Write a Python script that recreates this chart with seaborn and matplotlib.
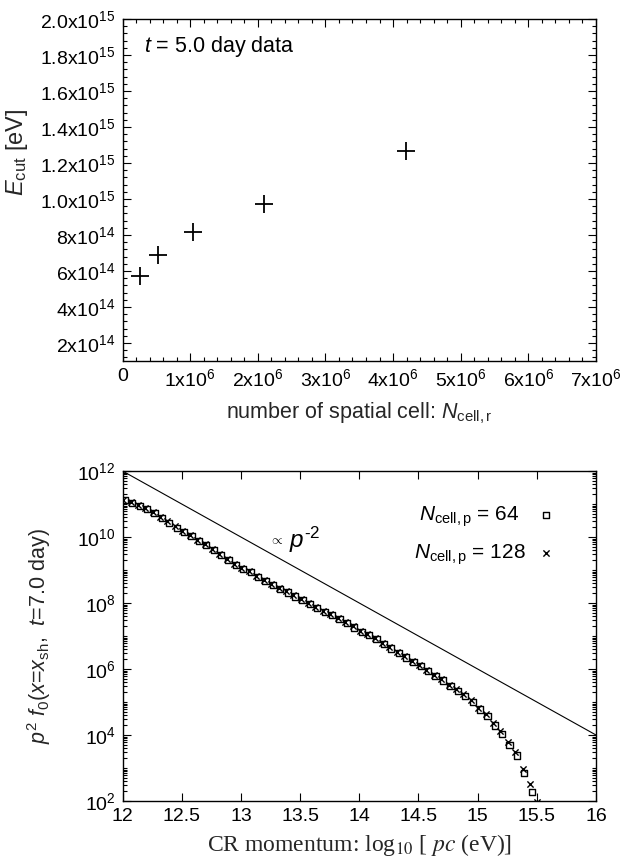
import numpy as np
import pandas as pd
import matplotlib
matplotlib.use('Agg')
import matplotlib.pyplot as plt
import matplotlib.ticker as mticker
import seaborn as sns

# ---------------- data: top panel ----------------
n_cell_r = [262144, 524288, 1048576, 2097152, 4194304]
e_cut = [5.70e14, 6.88e14, 8.17e14, 9.70e14, 1.265e15]

top_xticks = [0, 1e6, 2e6, 3e6, 4e6, 5e6, 6e6, 7e6]
top_xticklabels = ['0', r'1x10$^{6}$', r'2x10$^{6}$', r'3x10$^{6}$', r'4x10$^{6}$',
                   r'5x10$^{6}$', r'6x10$^{6}$', r'7x10$^{6}$']
top_yticks = [2e14, 4e14, 6e14, 8e14, 1.0e15, 1.2e15, 1.4e15, 1.6e15, 1.8e15, 2.0e15]
top_yticklabels = [r'2x10$^{14}$', r'4x10$^{14}$', r'6x10$^{14}$', r'8x10$^{14}$',
                   r'1.0x10$^{15}$', r'1.2x10$^{15}$', r'1.4x10$^{15}$', r'1.6x10$^{15}$',
                   r'1.8x10$^{15}$', r'2.0x10$^{15}$']

# ---------------- data: bottom panel ----------------
logp_64 = [12.020, 12.083, 12.145, 12.208, 12.270, 12.333, 12.395, 12.458, 12.520, 12.583,
           12.645, 12.708, 12.770, 12.833, 12.895, 12.958, 13.020, 13.083, 13.145, 13.208,
           13.270, 13.333, 13.395, 13.458, 13.520, 13.583, 13.645, 13.708, 13.770, 13.833,
           13.895, 13.958, 14.020, 14.083, 14.145, 14.208, 14.270, 14.333, 14.395, 14.458,
           14.520, 14.583, 14.645, 14.708, 14.770, 14.833, 14.895, 14.958, 15.020, 15.083,
           15.145, 15.208, 15.270, 15.333, 15.395, 15.458]
logf_64 = [11.11, 11.04, 10.95, 10.84, 10.72, 10.58, 10.43, 10.28, 10.14, 10.02,
           9.89, 9.75, 9.60, 9.45, 9.30, 9.16, 9.04, 8.93, 8.79, 8.67,
           8.55, 8.43, 8.32, 8.20, 8.09, 7.98, 7.86, 7.73, 7.63, 7.51,
           7.39, 7.26, 7.13, 7.03, 6.91, 6.76, 6.62, 6.49, 6.35, 6.22,
           6.08, 5.93, 5.78, 5.65, 5.49, 5.34, 5.19, 4.99, 4.77, 4.57,
           4.29, 4.03, 3.70, 3.38, 2.86, 2.27]
logp_128 = [12.005, 12.068, 12.130, 12.193, 12.255, 12.318, 12.380, 12.443, 12.505, 12.568,
            12.630, 12.693, 12.755, 12.818, 12.880, 12.943, 13.005, 13.068, 13.130, 13.193,
            13.255, 13.318, 13.380, 13.443, 13.505, 13.568, 13.630, 13.693, 13.755, 13.818,
            13.880, 13.943, 14.005, 14.068, 14.130, 14.193, 14.255, 14.318, 14.380, 14.443,
            14.505, 14.568, 14.630, 14.693, 14.755, 14.818, 14.880, 14.943, 15.005, 15.068,
            15.130, 15.193, 15.255, 15.318, 15.380, 15.443, 15.505]
logf_128 = [11.12, 11.06, 10.97, 10.87, 10.75, 10.62, 10.47, 10.32, 10.17, 10.05,
            9.92, 9.78, 9.64, 9.49, 9.34, 9.19, 9.07, 8.96, 8.82, 8.70,
            8.58, 8.46, 8.35, 8.23, 8.12, 8.01, 7.89, 7.76, 7.66, 7.54,
            7.42, 7.29, 7.16, 7.06, 6.94, 6.80, 6.66, 6.52, 6.39, 6.25,
            6.12, 5.97, 5.82, 5.69, 5.53, 5.38, 5.23, 5.05, 4.83, 4.63,
            4.37, 4.11, 3.80, 3.48, 2.96, 2.52, 1.98]
ref_logp = [12.0, 16.0]
ref_f = [1e12, 1e4]

bot_xticks = [12, 12.5, 13, 13.5, 14, 14.5, 15, 15.5, 16]
bot_xticklabels = ['12', '12.5', '13', '13.5', '14', '14.5', '15', '15.5', '16']
bot_yticks = [1e2, 1e4, 1e6, 1e8, 1e10, 1e12]
bot_yticklabels = [r'10$^{2}$', r'10$^{4}$', r'10$^{6}$', r'10$^{8}$', r'10$^{10}$', r'10$^{12}$']

# ---------------- style ----------------
sns.set_theme(style='ticks')
plt.rcParams['font.family'] = ['Liberation Sans', 'DejaVu Sans']
plt.rcParams['mathtext.fontset'] = 'custom'
plt.rcParams['mathtext.rm'] = 'Liberation Sans'
plt.rcParams['mathtext.it'] = 'Liberation Sans:italic'
plt.rcParams['mathtext.bf'] = 'Liberation Sans:bold'
plt.rcParams['axes.linewidth'] = 1.0
plt.rcParams['axes.edgecolor'] = 'black'
plt.rcParams['text.color'] = 'black'
plt.rcParams['xtick.color'] = 'black'
plt.rcParams['ytick.color'] = 'black'

W, H = 627, 863
fig = plt.figure(figsize=(W / 100, H / 100), dpi=100)
fig.patch.set_facecolor('white')


def frac(l, t, r, b):
    return [l / W, 1 - b / H, (r - l) / W, (b - t) / H]


TFS = 14   # tick labels
LFS = 15.5  # labels

# ---------------- top panel ----------------
ax1 = fig.add_axes(frac(122.5, 19, 596, 361))
df_top = pd.DataFrame({'N': n_cell_r, 'E': e_cut})
sns.scatterplot(data=df_top, x='N', y='E', marker='+', s=150, color='black',
                linewidth=1.3, ax=ax1, legend=False)
ax1.set_xlim(0, 7e6)
ax1.set_ylim(1e14, 2e15)
ax1.xaxis.set_major_locator(mticker.FixedLocator(top_xticks))
ax1.set_xticklabels(top_xticklabels, fontsize=TFS)
ax1.xaxis.set_minor_locator(mticker.MultipleLocator(2e5))
ax1.yaxis.set_major_locator(mticker.FixedLocator(top_yticks))
ax1.set_yticklabels(top_yticklabels, fontsize=TFS)
ax1.yaxis.set_minor_locator(mticker.MultipleLocator(4e13))
ax1.tick_params(which='both', direction='in', top=True, right=True, width=0.8)
ax1.tick_params(which='major', length=6, pad=5)
ax1.tick_params(which='minor', length=3)
ax1.set_xlabel(r'number of spatial cell: $N_{\rm cell,r}$', fontsize=LFS)
ax1.xaxis.set_label_coords(0.5, -0.115)
ax1.set_ylabel(r'$E_{\rm cut}$ [eV]', fontsize=LFS + 1.5)
ax1.yaxis.set_label_coords(-0.195, 0.61)
ax1.text(0.045, 0.921, r'$t$ = 5.0 day data', transform=ax1.transAxes,
         fontsize=LFS, ha='left', va='center')

# ---------------- bottom panel ----------------
ax2 = fig.add_axes(frac(122.5, 471, 596, 801))
ax2.set_yscale('log')
sns.lineplot(x=ref_logp, y=ref_f, color='black', linewidth=0.8, ax=ax2)
df64 = pd.DataFrame({'p': logp_64, 'f': np.power(10.0, logf_64)})
df128 = pd.DataFrame({'p': logp_128, 'f': np.power(10.0, logf_128)})
sns.scatterplot(data=df64, x='p', y='f', marker='s', s=20, facecolor='none',
                edgecolor='black', linewidth=1.0, ax=ax2,
                label=r'$N_{\rm cell,p}$ = 64  ')
sns.scatterplot(data=df128, x='p', y='f', marker='x', s=20, color='black',
                linewidth=1.0, ax=ax2, label=r'$N_{\rm cell,p}$ = 128')
ax2.set_xlim(12, 16)
ax2.set_ylim(1e2, 1e12)
ax2.xaxis.set_major_locator(mticker.FixedLocator(bot_xticks))
ax2.set_xticklabels(bot_xticklabels, fontsize=TFS)
ax2.yaxis.set_major_locator(mticker.FixedLocator(bot_yticks))
ax2.set_yticklabels(bot_yticklabels, fontsize=TFS)
ax2.yaxis.set_minor_locator(mticker.LogLocator(base=10, subs=np.arange(1, 10), numticks=100))
ax2.yaxis.set_minor_formatter(mticker.NullFormatter())
ax2.tick_params(which='both', direction='in', top=True, right=True, width=0.8)
ax2.tick_params(which='major', length=6, pad=5)
ax2.tick_params(which='minor', length=3)
ax2.set_xlabel(r'CR momentum: log$_{10}$ [ $pc$ (eV)]', fontsize=LFS + 1.5,
               family='Liberation Serif', math_fontfamily='stix')
ax2.xaxis.set_label_coords(0.5, -0.095)
ax2.set_ylabel(r'$p^2$ $f_0$($x$=$x_{\rm sh}$,  $t$=7.0 day)', fontsize=LFS)
ax2.yaxis.set_label_coords(-0.147, 0.5)
ax2.text(13.36, 10 ** 9.92, r'$\propto$', fontsize=TFS - 4, ha='right', va='center')
ax2.text(13.41, 10 ** 9.92, r'$p^{\text{-2}}$', fontsize=LFS + 2, ha='left', va='center')

leg = ax2.legend(loc='upper right', bbox_to_anchor=(0.934, 0.924), frameon=False,
                 markerfirst=False, fontsize=LFS - 0.5, labelspacing=0.65,
                 handlelength=1.0, handletextpad=0.45, borderaxespad=0)

fig.savefig('out.png', dpi=100, facecolor='white')
